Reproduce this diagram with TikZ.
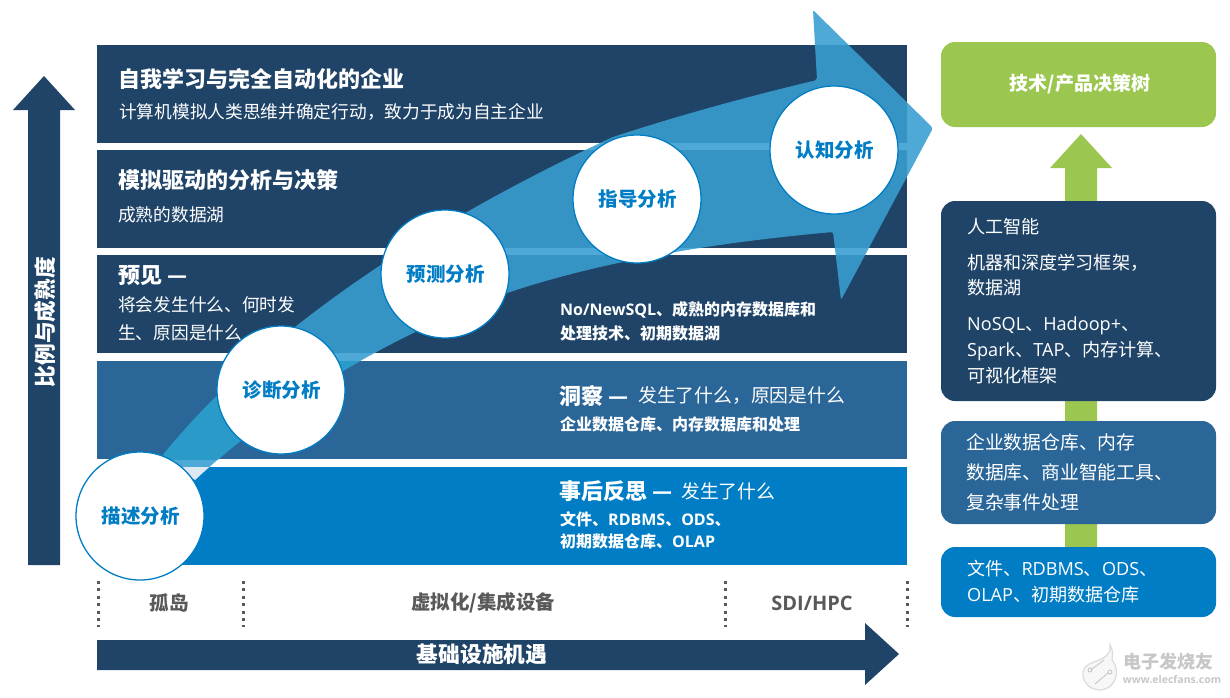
\documentclass[tikz,border=0pt]{standalone}
\usepackage{fontspec}
\setmainfont{Noto Sans CJK SC}
\newfontfamily\lat{Open Sans}
\usetikzlibrary{positioning, shapes}
\definecolor{navy}{HTML}{1F4468}
\definecolor{midblue}{HTML}{2B6699}
\definecolor{brightblue}{HTML}{007DC5}
\definecolor{flow}{HTML}{399ED1}
\definecolor{flowtail}{HTML}{2A9BC9}
\definecolor{flowpale}{HTML}{DCE8F3}
\definecolor{leaf}{HTML}{9BC750}
\definecolor{ink}{HTML}{595959}
\newcommand{\fs}[1]{\fontsize{#1}{#1}\selectfont}
\newcommand{\flowpath}{(163,455) .. controls (240,360) and (380,245) .. (613,137)
        .. controls (680,115) and (750,96) .. (817,80)
        -- (813,10) -- (933,128) -- (841,300) -- (833,232)
        .. controls (710,243) and (600,262) .. (507,293)
        .. controls (380,340) and (270,410) .. (195,480) -- cycle}

\begin{document}
\begin{tikzpicture}[
      x = 1pt,
      y = -1pt,
      title/.style = {anchor = west, inner sep = 0, text = white, font = \fs{22}\bfseries},
      body/.style = {anchor = west, inner sep = 0, text = white, font = \fs{17.7}},
      tech/.style = {anchor = west, inner sep = 0, text = white, font = \fs{16}\bfseries},
      side/.style = {anchor = west, inner sep = 0, text = white, font = \fs{18.1}},
      stage/.style = {circle, draw = brightblue, line width = 1.3pt, fill = white, minimum size = 128pt,
        inner sep = 0, text = brightblue, font = \fs{19.5}\bfseries},
      infra/.style = {inner sep = 0, text = ink, font = \fs{19.5}\bfseries},
      box/.style = {rounded corners = 14pt, draw = none},
      marker/.style = {ink, line width = 3pt, dash pattern = on 3pt off 4.4pt}]

      \useasboundingbox (0,0) rectangle (1230,697);

      % bands
      \fill [navy] (97,45) rectangle (907,143);
      \fill [navy] (97,150) rectangle (907,248);
      \fill [navy] (97,255) rectangle (907,353);
      \fill [midblue] (97,361) rectangle (907,459);
      \fill [brightblue] (97,467) rectangle (907,565);

      % big arrow
      \fill [flow, opacity = 0.89, rounded corners = 2pt] \flowpath;
      \begin{scope}
        \clip (97,361) rectangle (907,459);
        \fill [flowtail] \flowpath;
      \end{scope}
      \begin{scope}
        \clip (97,467) rectangle (907,565);
        \fill [flowpale] \flowpath;
      \end{scope}

      % side arrows
      \fill [navy] (28,565) -- (28,110) -- (13,110) -- (44,76) -- (75,110) -- (60,110) -- (60,565) -- cycle;
      \fill [navy] (97,640) -- (865,640) -- (865,623) -- (899,654) -- (865,685) -- (865,670) -- (97,670) -- cycle;
      \fill [leaf] (1065,547) -- (1065,168) -- (1050,168) -- (1081,134) -- (1112,168) -- (1097,168) -- (1097,547) -- cycle;

      % right boxes
      \fill [leaf, box] (941,42) rectangle (1216,127);
      \fill [navy, box] (941,201) rectangle (1216,401);
      \fill [midblue, box] (941,421) rectangle (1216,524);
      \fill [brightblue, box] (941,547) rectangle (1216,617);

      % infrastructure markers
      \foreach \x in {98, 243, 725, 907}
        \draw [marker] (\x,581) -- (\x,627);

      % stages
      \foreach \name/\x/\y/\label in {descriptive/140/516/描述分析, diagnostic/281/390/诊断分析,
          predictive/445/274/预测分析, prescriptive/637/199/指导分析, cognitive/834/150/认知分析}
        \node [stage] (\name) at (\x,\y) {\hspace{1.5pt}\label};

      % band texts
      \node [title] (selflearn) at (118.5,79) {自我学习与完全自动化的企业};
      \node [body] (selflearnsub) at (119,112) {计算机模拟人类思维并确定行动，致力于成为自主企业};
      \node [title] (simulate) at (118,180) {模拟驱动的分析与决策};
      \node [body] (simulatesub) at (118,215) {成熟的数据湖};
      \node [title] (foresight) at (118,276) {预见 —};
      \node [body] (foresightsub) at (118,305) {将会发生什么、何时发};
      \node [body] (foresightsubb) at (118,333) {生、原因是什么};
      \node [tech] (foresighttech) at (560,310) {{\lat No/NewSQL}、成熟的内存数据库和};
      \node [tech] (foresighttechb) at (560,333) {处理技术、初期数据湖};
      \node [title] (insight) at (559,396) {洞察 —};
      \node [body, font = \fs{18.8}] (insightsub) at (638,396) {发生了什么，原因是什么};
      \node [tech] (insighttech) at (560,424) {企业数据仓库、内存数据库和处理};
      \node [title] (hindsight) at (559,491) {事后反思 —};
      \node [body, font = \fs{18.8}] (hindsightsub) at (681,491) {发生了什么};
      \node [tech] (hindsighttech) at (560,519) {文件、{\lat RDBMS}、{\lat ODS}、};
      \node [tech] (hindsighttechb) at (560,541) {初期数据仓库、{\lat OLAP}};

      % axes
      \node [inner sep = 0, rotate = 90, text = white, font = \fs{21.7}\bfseries] (scale) at (45,322) {比例与成熟度};
      \node [inner sep = 0, text = white, font = \fs{21.7}\bfseries] (chance) at (482,654) {基础设施机遇};
      \node [infra] (silo) at (169,603) {孤岛};
      \node [infra] (virtual) at (483,603) {虚拟化/集成设备};
      \node [infra, font = \lat\fs{20}\bfseries] (sdi) at (812,603) {SDI/HPC};

      % right texts
      \node [inner sep = 0, text = white, font = \fs{19}\bfseries] (tree) at (1080,84) {技术/产品决策树};
      \node [side] (ai) at (967,227) {人工智能};
      \node [side] (aia) at (967,263) {机器和深度学习框架，};
      \node [side] (aib) at (967,288) {数据湖};
      \node [side] (aic) at (967,326) {{\lat NoSQL}、{\lat Hadoop+}、};
      \node [side] (aid) at (967,351) {{\lat Spark}、{\lat TAP}、内存计算、};
      \node [side] (aie) at (967,376) {可视化框架};
      \node [side, font = \fs{18.8}] (dwa) at (966,442) {企业数据仓库、内存};
      \node [side, font = \fs{18.8}] (dwb) at (966,472) {数据库、商业智能工具、};
      \node [side, font = \fs{18.8}] (dwc) at (966,502) {复杂事件处理};
      \node [side] (filea) at (967,569) {文件、{\lat RDBMS}、{\lat ODS}、};
      \node [side] (fileb) at (967,595) {{\lat OLAP}、初期数据仓库};

      % watermark
      \draw [black!14, line width = 1.2pt, fill = black!3] (1112,660) .. controls (1122,672) and (1114,690) .. (1100,690)
        .. controls (1088,690) and (1082,680) .. (1083,672) .. controls (1085,658) and (1112,664) .. (1110,645)
        .. controls (1113,650) and (1113,655) .. (1112,660) -- cycle;
      \draw [black!22, line width = 0.9pt] (1090,670) circle (2pt) (1110,672) circle (2pt)
        (1092,669) -- (1104,660) (1108,673) -- (1095,684);
      \node [inner sep = 0, text = black!22, font = \fs{18}\bfseries] (mark) at (1168,662) {电子发烧友};
      \node [inner sep = 0, text = black!22, font = \lat\fs{10.5}\bfseries] (markurl) at (1172,680) {www.elecfans.com};
  \end{tikzpicture}
\end{document}
